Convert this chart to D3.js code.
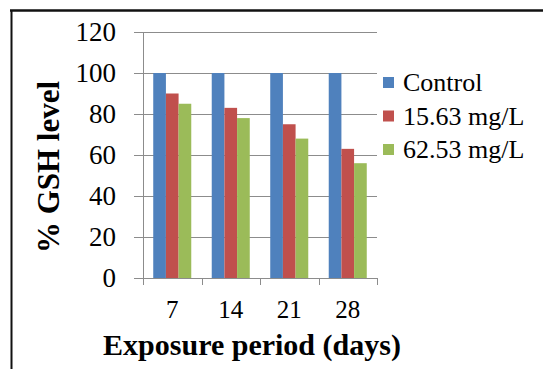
<!DOCTYPE html>
<html>
<head>
<meta charset="utf-8">
<script src="https://cdn.jsdelivr.net/npm/d3@7"></script>
<style>
  body { margin: 0; background: #fff; }
</style>
</head>
<body>
<div id="chart"></div>
<script>
// exposure days on x, % GSH per treatment
const days = ["7", "14", "21", "28"];
const series = ["Control", "15.63 mg/L", "62.53 mg/L"];
const control = [100, 100, 100, 100];
const low = [90, 83, 75, 63];
const high = [85, 78, 68, 56];
const yTicks = [0, 20, 40, 60, 80, 100, 120];
const colors = ["#4F81BD", "#C0504D", "#9BBB59"];

const width = 543, height = 369;
const margin = { left: 143, right: 166, top: 32, bottom: 91 };
const font = "Liberation Serif";

const svg = d3.select("#chart").append("svg")
    .attr("width", width)
    .attr("height", height)
    .style("font-family", font);

// frame lines (top + left)
svg.append("line").attr("x1", 10).attr("x2", width).attr("y1", 10.5).attr("y2", 10.5)
    .attr("stroke", "#111").attr("stroke-width", 2.5);
svg.append("line").attr("x1", 11.5).attr("x2", 11.5).attr("y1", 10).attr("y2", height)
    .attr("stroke", "#111").attr("stroke-width", 2);

const x0 = d3.scaleBand()
    .domain(days)
    .range([margin.left, width - margin.right])
    .paddingInner(0.35)
    .paddingOuter(0.175);

const x1 = d3.scaleBand()
    .domain(series)
    .range([0, x0.bandwidth()]);

const y = d3.scaleLinear()
    .domain([0, 120])
    .range([height - margin.bottom, margin.top]);

const plotRight = width - margin.right;

// gridlines + y labels
const grid = svg.append("g");
grid.selectAll("line")
    .data(yTicks)
    .enter()
    .append("line")
    .attr("x1", margin.left - 9)
    .attr("x2", plotRight)
    .attr("y1", d => Math.round(y(d)) + 0.5)
    .attr("y2", d => Math.round(y(d)) + 0.5)
    .attr("stroke", "#8c8c8c")
    .attr("stroke-width", 1);

svg.append("g").selectAll("text")
    .data(yTicks)
    .enter()
    .append("text")
    .attr("x", 116)
    .attr("y", d => y(d) + 9)
    .attr("text-anchor", "end")
    .attr("font-family", font)
    .style("font-size", "27px")
    .text(d => d);

// y axis line
svg.append("line")
    .attr("x1", margin.left + 0.5).attr("x2", margin.left + 0.5)
    .attr("y1", margin.top).attr("y2", y(0) + 7)
    .attr("stroke", "#8c8c8c");

// category separators on x axis
const edges = days.map(d => x0(d) - x0.step() * x0.paddingInner() / 2).concat([plotRight]);
svg.append("g").selectAll("line")
    .data(edges.slice(1))
    .enter()
    .append("line")
    .attr("x1", d => Math.round(d) + 0.5)
    .attr("x2", d => Math.round(d) + 0.5)
    .attr("y1", y(0))
    .attr("y2", y(0) + 7)
    .attr("stroke", "#8c8c8c");

// bars
const data = days.map((d, i) => ({ day: d, vals: [control[i], low[i], high[i]] }));
const groups = svg.append("g").selectAll("g")
    .data(data)
    .enter()
    .append("g")
    .attr("transform", d => "translate(" + x0(d.day) + ",0)");

groups.selectAll("rect")
    .data(d => d.vals.map((v, j) => ({ s: series[j], v: v, c: colors[j] })))
    .enter()
    .append("rect")
    .attr("x", d => x1(d.s))
    .attr("width", x1.bandwidth())
    .attr("y", d => y(d.v))
    .attr("height", d => y(0) - y(d.v))
    .attr("fill", d => d.c);

// x labels
svg.append("g").selectAll("text")
    .data(days)
    .enter()
    .append("text")
    .attr("x", d => x0(d) + x0.bandwidth() / 2)
    .attr("y", 318)
    .attr("text-anchor", "middle")
    .attr("font-family", font)
    .style("font-size", "25px")
    .text(d => d);

// axis titles
svg.append("text")
    .attr("x", 252)
    .attr("y", 355)
    .attr("text-anchor", "middle")
    .attr("font-family", font)
    .style("font-size", "30px")
    .style("font-weight", "bold")
    .text("Exposure period (days)");

svg.append("text")
    .attr("transform", "translate(59,167) rotate(-90)")
    .attr("text-anchor", "middle")
    .attr("font-family", font)
    .style("font-size", "31px")
    .style("font-weight", "bold")
    .text("% GSH level");

// legend
const legend = svg.append("g").selectAll("g")
    .data(series)
    .enter()
    .append("g")
    .attr("transform", (d, i) => "translate(383," + (77 + i * 33.5) + ")");

legend.append("rect")
    .attr("width", 11)
    .attr("height", 11)
    .attr("fill", (d, i) => colors[i]);

legend.append("text")
    .attr("x", 20)
    .attr("y", 14)
    .attr("font-family", font)
    .style("font-size", "26px")
    .text(d => d);
</script>
</body>
</html>
